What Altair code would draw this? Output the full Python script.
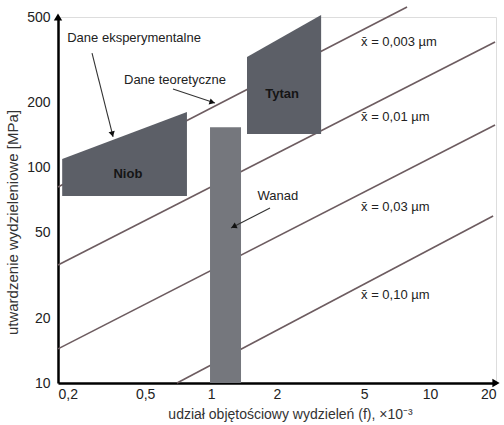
import altair as alt
import pandas as pd

# Theoretical precipitation-strengthening lines (f in units of 1e-3, strength in MPa)
line_names = ["0,003", "0,003", "0,01", "0,01", "0,03", "0,03", "0,10", "0,10"]
line_f = [0.2, 7.85, 0.2, 19.8, 0.2, 19.8, 0.699, 19.4]
line_s = [81.3, 556, 35.3, 383, 14.4, 157.7, 10, 59.6]

# Experimental bands for Nb and Ti (sloped upper edge, flat lower edge)
band_names = ["Niob", "Niob", "Tytan", "Tytan"]
band_f = [0.209, 0.776, 1.459, 3.18]
band_top = [109.6, 181, 326, 511]
band_bottom = [73.8, 73.8, 143, 143]

# Experimental band for V
wanad_f = [0.989, 1.370]
wanad_s = [10, 154]

# Text labels
box_labels = ["Niob", "Tytan"]
box_f = [0.417, 2.11]
box_s = [93.4, 220]

note_labels = ["Dane eksperymentalne", "Dane teoretyczne", "Wanad"]
note_f = [0.445, 0.684, 2.02]
note_s = [400, 255, 73.8]

size_labels = ["x\u0304 = 0,003 \u00b5m", "x\u0304 = 0,01 \u00b5m", "x\u0304 = 0,03 \u00b5m", "x\u0304 = 0,10 \u00b5m"]
size_f = [4.84, 4.84, 4.84, 4.84]
size_s = [383, 172, 65.6, 25.6]

# Pointer arrows: start, tip, head position and head angle
arrow_f0 = [0.286, 0.670, 1.858]
arrow_s0 = [340, 231.6, 64.9]
arrow_f1 = [0.357, 1.042, 1.233]
arrow_s1 = [138.7, 199.4, 52.4]
head_f = [0.354, 1.012, 1.269]
head_s = [143, 201, 53.2]
head_angle = [166, 108, 243]

x_ticks = [0.2, 0.5, 1, 2, 5, 10, 20]
y_ticks = [10, 20, 50, 100, 200, 500]

lines = pd.DataFrame({"name": line_names, "f": line_f, "s": line_s})
bands = pd.DataFrame({"name": band_names, "f": band_f, "s": band_top, "s2": band_bottom})
wanad = pd.DataFrame({"f": [wanad_f[0]], "f2": [wanad_f[1]], "s": [wanad_s[0]], "s2": [wanad_s[1]]})
boxes = pd.DataFrame({"t": box_labels, "f": box_f, "s": box_s})
notes = pd.DataFrame({"t": note_labels, "f": note_f, "s": note_s})
sizes = pd.DataFrame({"t": size_labels, "f": size_f, "s": size_s})
arrows = pd.DataFrame({"f": arrow_f0, "s": arrow_s0, "f2": arrow_f1, "s2": arrow_s1})
heads = pd.DataFrame({"f": head_f, "s": head_s, "a": head_angle})
axis_arrows = pd.DataFrame({"f": [0.2, 20], "s": [500, 10], "shape": ["triangle-up", "triangle-right"],
                            "dx": [0, -6], "dy": [-3, 0]})

xs = alt.Scale(type="log", domain=[0.2, 20], nice=False)
ys = alt.Scale(type="log", domain=[10, 500], nice=False)

x_axis = alt.Axis(
    values=x_ticks, grid=False, ticks=False, domainColor="black", domainWidth=2.5,
    labelExpr="replace(format(datum.value, '~g'), '.', ',')",
    labelFontSize=14, labelColor="#222", labelPadding=4,
    title="udział objętościowy wydzieleń (f), \u00d710\u207b\u00b3",
    titleFontSize=14, titleFontWeight="normal", titleColor="#333",
    titleX=232, titleY=31, titleAlign="center", titleBaseline="middle",
)
y_axis = alt.Axis(
    values=y_ticks, grid=False, ticks=False, domainColor="black", domainWidth=2.5,
    labelFontSize=14, labelColor="#222", labelPadding=8,
    title="utwardzenie wydzieleniowe [MPa]",
    titleFontSize=15, titleFontWeight="normal", titleColor="#333",
    titleX=-46, titleY=205, titleAlign="center", titleBaseline="middle", titleAngle=-90,
)


def X(field="f"):
    return alt.X(field, type="quantitative", scale=xs, axis=x_axis)


def Y(field="s"):
    return alt.Y(field, type="quantitative", scale=ys, axis=y_axis)


line_layer = alt.Chart(lines).mark_line(color="#6d5c60", strokeWidth=1.6, clip=False).encode(
    x=X(), y=Y(), detail="name:N"
)

band_layer = alt.Chart(bands).mark_area(color="#5c5f67", clip=False).encode(
    x=X(), y=Y(), y2="s2", detail="name:N"
)

wanad_layer = alt.Chart(wanad).mark_rect(color="#75777d").encode(
    x=X(), x2="f2", y=Y(), y2="s2"
)

box_text = alt.Chart(boxes).mark_text(fontSize=13, fontWeight="bold", color="#151515",
                                      align="center", baseline="middle").encode(
    x=X(), y=Y(), text="t:N"
)

note_text = alt.Chart(notes).mark_text(fontSize=13, color="#222", align="center",
                                       baseline="middle").encode(
    x=X(), y=Y(), text="t:N"
)

size_text = alt.Chart(sizes).mark_text(fontSize=13, color="#222", align="left",
                                       baseline="middle").encode(
    x=X(), y=Y(), text="t:N"
)

arrow_lines = alt.Chart(arrows).mark_rule(color="#333", strokeWidth=1.1).encode(
    x=X(), y=Y(), x2="f2", y2="s2"
)

arrow_heads = alt.Chart(heads).mark_point(shape="triangle-up", filled=True, size=40,
                                          color="#111", opacity=1).encode(
    x=X(), y=Y(), angle=alt.Angle("a:Q", scale=None)
)

axis_heads = alt.Chart(axis_arrows).mark_point(filled=True, size=70, color="black",
                                               opacity=1, clip=False).encode(
    x=X(), y=Y(), shape=alt.Shape("shape:N", scale=None),
    xOffset=alt.XOffset("dx:Q", scale=None), yOffset=alt.YOffset("dy:Q", scale=None)
)

chart = alt.layer(
    line_layer, band_layer, wanad_layer, box_text, note_text, size_text,
    arrow_lines, arrow_heads, axis_heads
).properties(
    width=438, height=366,
    autosize=alt.AutoSizeParams(type="none"),
    padding={"left": 58, "top": 17, "right": 8, "bottom": 42},
    background="white",
).configure_view(stroke=None).configure(font="Liberation Sans")

chart.save("out.html", embed_options={"renderer": "svg", "actions": False})
